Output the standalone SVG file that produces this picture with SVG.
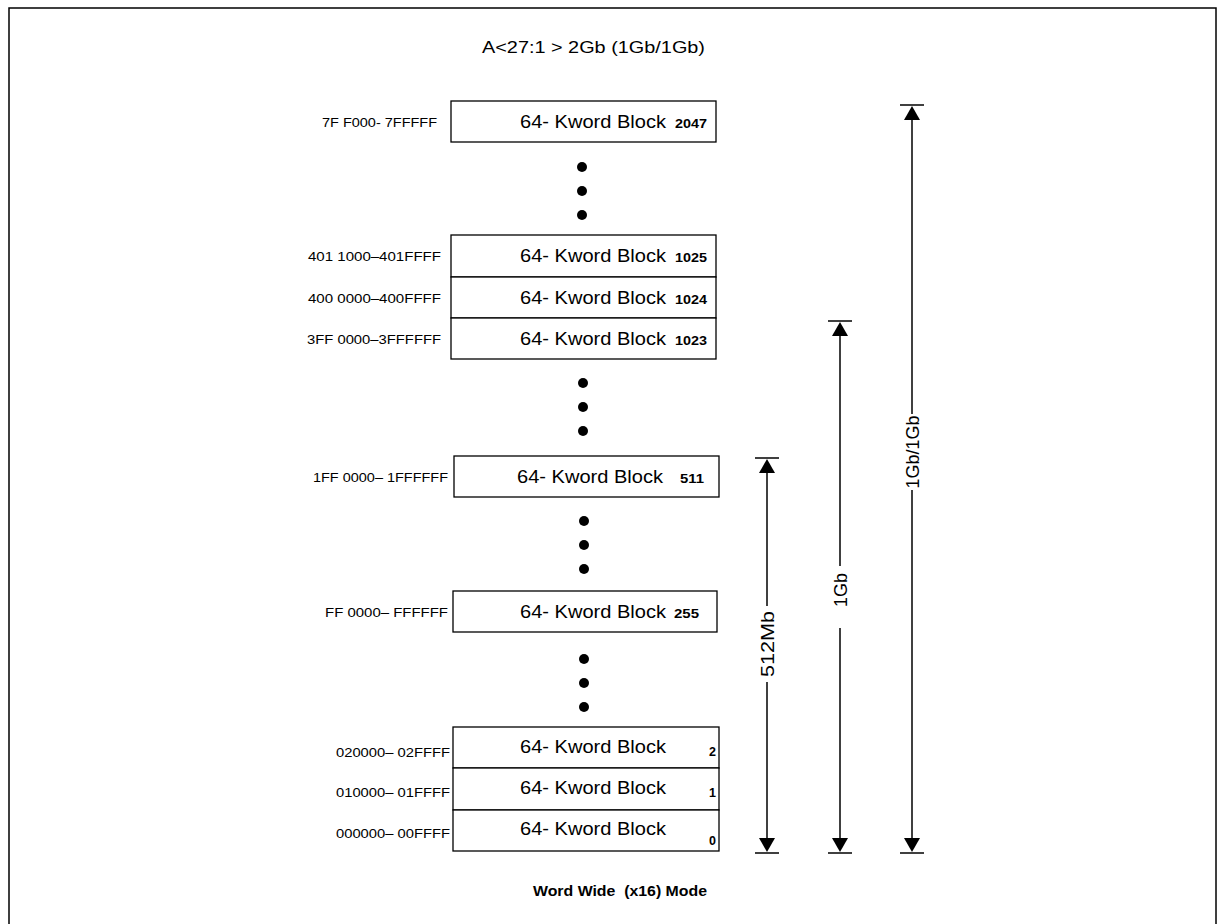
<svg xmlns="http://www.w3.org/2000/svg" xmlns:xlink="http://www.w3.org/1999/xlink" width="1225" height="924" viewBox="0 0 1225 924">
<style>
  .frame { fill: none; stroke: #000; stroke-width: 1.5; }
  .box { fill: #fff; stroke: #000; stroke-width: 1.3; }
  .bt { font-family: "Liberation Sans", Arial, sans-serif; font-size: 18px; fill: #000; }
  .bn { font-family: "Liberation Sans", Arial, sans-serif; font-size: 12.5px; font-weight: bold; fill: #000; }
  .lb { font-family: "Liberation Sans", Arial, sans-serif; font-size: 12.5px; fill: #000; text-anchor: end; }
  .title { font-family: "Liberation Sans", Arial, sans-serif; font-size: 17px; fill: #000; }
  .foot { font-family: "Liberation Sans", Arial, sans-serif; font-size: 14px; font-weight: bold; fill: #000; }
  .dim { stroke: #000; stroke-width: 1.5; fill: none; }
  .dimt { font-family: "Liberation Sans", Arial, sans-serif; font-size: 18px; fill: #000; text-anchor: middle; }
  .dot { fill: #000; }
</style>
<defs>
  <g id="capTop"><line x1="-12" y1="0" x2="12" y2="0" stroke="#000" stroke-width="1.5"/><polygon points="0,1 -8,15 8,15" fill="#000"/></g>
  <g id="capBot"><line x1="-12" y1="0" x2="12" y2="0" stroke="#000" stroke-width="1.5"/><polygon points="0,-1 -8,-15 8,-15" fill="#000"/></g>
</defs>
<rect class="frame" x="9" y="8" width="1207" height="930"/>
<text class="title" x="482" y="53" textLength="223" lengthAdjust="spacingAndGlyphs">A&lt;27:1 &gt; 2Gb (1Gb/1Gb)</text>

<g id="block2047">
  <rect class="box" x="451" y="101" width="265" height="41"/>
  <text class="bt" x="520" y="128" textLength="146" lengthAdjust="spacingAndGlyphs">64- Kword Block</text>
  <text class="bn" x="675" y="128" textLength="32" lengthAdjust="spacingAndGlyphs">2047</text>
  <text class="lb" x="437" y="127" textLength="115" lengthAdjust="spacingAndGlyphs">7F F000- 7FFFFF</text>
</g>
<g id="dots1">
  <circle class="dot" cx="582" cy="167" r="5"/><circle class="dot" cx="582" cy="191" r="5"/><circle class="dot" cx="582" cy="215" r="5"/>
</g>
<g id="block1025">
  <rect class="box" x="451" y="235" width="265" height="42"/>
  <text class="bt" x="520" y="262" textLength="146" lengthAdjust="spacingAndGlyphs">64- Kword Block</text>
  <text class="bn" x="675" y="262" textLength="32" lengthAdjust="spacingAndGlyphs">1025</text>
  <text class="lb" x="441" y="261" textLength="133" lengthAdjust="spacingAndGlyphs">401 1000–401FFFF</text>
</g>
<g id="block1024">
  <rect class="box" x="451" y="277" width="265" height="41"/>
  <text class="bt" x="520" y="304" textLength="146" lengthAdjust="spacingAndGlyphs">64- Kword Block</text>
  <text class="bn" x="675" y="304" textLength="32" lengthAdjust="spacingAndGlyphs">1024</text>
  <text class="lb" x="441" y="303" textLength="133" lengthAdjust="spacingAndGlyphs">400 0000–400FFFF</text>
</g>
<g id="block1023">
  <rect class="box" x="451" y="318" width="265" height="41"/>
  <text class="bt" x="520" y="345" textLength="146" lengthAdjust="spacingAndGlyphs">64- Kword Block</text>
  <text class="bn" x="675" y="345" textLength="32" lengthAdjust="spacingAndGlyphs">1023</text>
  <text class="lb" x="441" y="344" textLength="134" lengthAdjust="spacingAndGlyphs">3FF 0000–3FFFFFF</text>
</g>
<g id="dots2">
  <circle class="dot" cx="583" cy="383" r="5"/><circle class="dot" cx="583" cy="407" r="5"/><circle class="dot" cx="583" cy="431" r="5"/>
</g>
<g id="block511">
  <rect class="box" x="454" y="456" width="265" height="41"/>
  <text class="bt" x="517" y="483" textLength="146" lengthAdjust="spacingAndGlyphs">64- Kword Block</text>
  <text class="bn" x="680" y="483" textLength="24" lengthAdjust="spacingAndGlyphs">511</text>
  <text class="lb" x="448" y="482" textLength="135" lengthAdjust="spacingAndGlyphs">1FF 0000– 1FFFFFF</text>
</g>
<g id="dots3">
  <circle class="dot" cx="584" cy="521" r="5"/><circle class="dot" cx="584" cy="545" r="5"/><circle class="dot" cx="584" cy="569" r="5"/>
</g>
<g id="block255">
  <rect class="box" x="453" y="591" width="264" height="41"/>
  <text class="bt" x="520" y="618" textLength="146" lengthAdjust="spacingAndGlyphs">64- Kword Block</text>
  <text class="bn" x="674" y="618" textLength="25" lengthAdjust="spacingAndGlyphs">255</text>
  <text class="lb" x="448" y="617" textLength="123" lengthAdjust="spacingAndGlyphs">FF 0000– FFFFFF</text>
</g>
<g id="dots4">
  <circle class="dot" cx="584" cy="659" r="5"/><circle class="dot" cx="584" cy="683" r="5"/><circle class="dot" cx="584" cy="707" r="5"/>
</g>
<g id="block2">
  <rect class="box" x="453" y="727" width="266" height="41"/>
  <text class="bt" x="520" y="753" textLength="146" lengthAdjust="spacingAndGlyphs">64- Kword Block</text>
  <text class="bn" x="709" y="756">2</text>
  <text class="lb" x="450" y="757" textLength="114" lengthAdjust="spacingAndGlyphs">020000– 02FFFF</text>
</g>
<g id="block1">
  <rect class="box" x="453" y="768" width="266" height="42"/>
  <text class="bt" x="520" y="794" textLength="146" lengthAdjust="spacingAndGlyphs">64- Kword Block</text>
  <text class="bn" x="709" y="797">1</text>
  <text class="lb" x="450" y="797" textLength="114" lengthAdjust="spacingAndGlyphs">010000– 01FFFF</text>
</g>
<g id="block0">
  <rect class="box" x="453" y="810" width="266" height="41"/>
  <text class="bt" x="520" y="835" textLength="146" lengthAdjust="spacingAndGlyphs">64- Kword Block</text>
  <text class="bn" x="709" y="845">0</text>
  <text class="lb" x="450" y="838" textLength="114" lengthAdjust="spacingAndGlyphs">000000– 00FFFF</text>
</g>

<g id="connectors">
  <g id="dim512Mb">
    <use xlink:href="#capTop" x="767" y="458"/>
    <line class="dim" x1="767" y1="472" x2="767" y2="606"/>
    <line class="dim" x1="767" y1="682" x2="767" y2="840"/>
    <use xlink:href="#capBot" x="767" y="853"/>
    <text class="dimt" transform="translate(774,644) rotate(-90)" textLength="66" lengthAdjust="spacingAndGlyphs">512Mb</text>
  </g>
  <g id="dim1Gb">
    <use xlink:href="#capTop" x="840" y="321"/>
    <line class="dim" x1="840" y1="335" x2="840" y2="566"/>
    <line class="dim" x1="840" y1="628" x2="840" y2="840"/>
    <use xlink:href="#capBot" x="840" y="853"/>
    <text class="dimt" transform="translate(847,590) rotate(-90)">1Gb</text>
  </g>
  <g id="dim1Gb1Gb">
    <use xlink:href="#capTop" x="912" y="105"/>
    <line class="dim" x1="912" y1="119" x2="912" y2="414"/>
    <line class="dim" x1="912" y1="490" x2="912" y2="840"/>
    <use xlink:href="#capBot" x="912" y="853"/>
    <text class="dimt" transform="translate(919,452) rotate(-90)">1Gb/1Gb</text>
  </g>
</g>

<text class="foot" x="533" y="896" textLength="174" lengthAdjust="spacingAndGlyphs" xml:space="preserve">Word Wide  (x16) Mode</text>
</svg>
